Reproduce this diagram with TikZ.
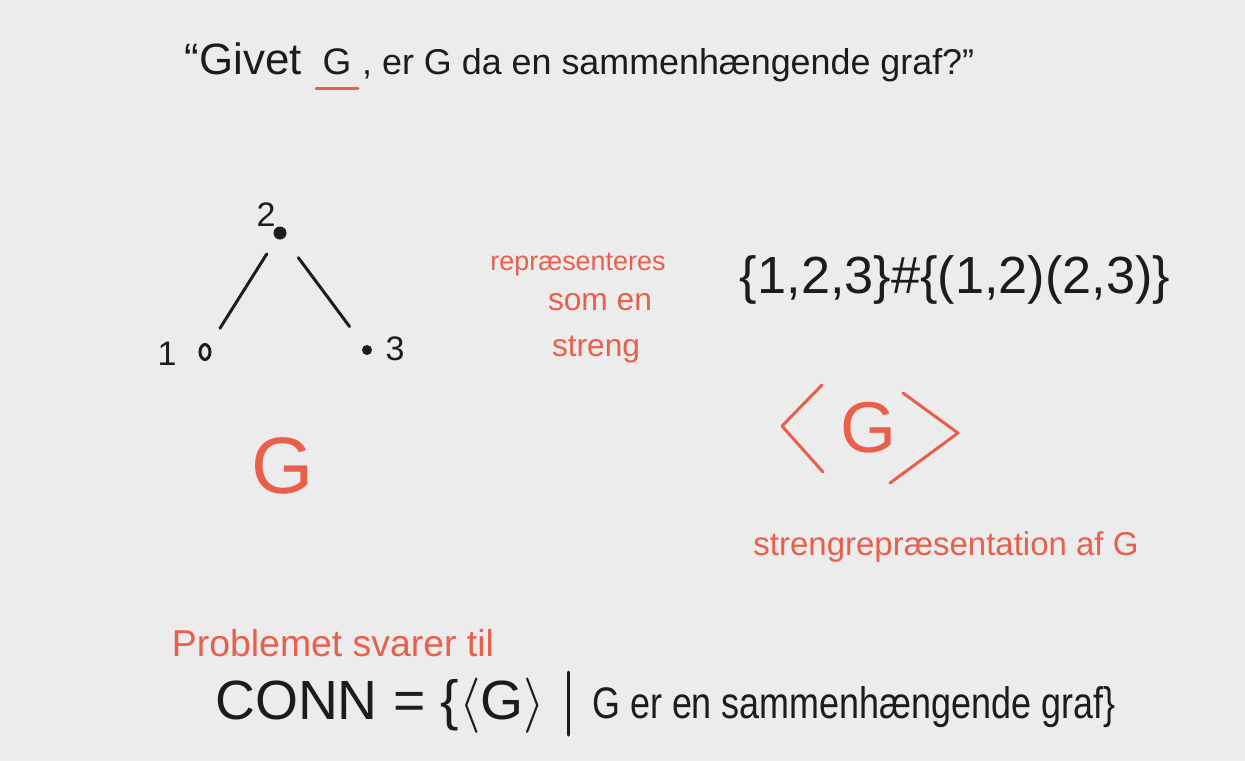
\documentclass[tikz,border=0pt]{standalone}
\usepackage{fontspec}
\setmainfont{Liberation Sans}
\definecolor{bg}{HTML}{ECECEC}
\definecolor{ink}{HTML}{1C1C1C}
\definecolor{redink}{HTML}{E8604C}
\tikzset{
  blk/.style={text=ink, inner sep=0pt},
  redtxt/.style={text=redink, inner sep=0pt},
  edge/.style={draw=ink, line width=3pt, line cap=round},
  redline/.style={draw=redink, line width=3pt, line cap=round, line join=round},
  dotf/.style={circle, fill=ink, inner sep=0pt, minimum size=13pt},
  doto/.style={ellipse, draw=ink, line width=3pt, inner sep=0pt, minimum width=10pt, minimum height=15pt},
  qfont/.style={font=\fontsize{37}{40}\selectfont},
  numfont/.style={font=\fontsize{34}{36}\selectfont},
}
\usetikzlibrary{shapes.geometric}
\begin{document}
\begin{tikzpicture}[x=1pt,y=-1pt]
\fill[bg] (0,0) rectangle (1245,761);
\useasboundingbox (0,0) rectangle (1245,761);

% question
\node[blk, anchor=base east] (q1) at (302,74) {\resizebox{117pt}{!}{\fontsize{37}{40}\selectfont “Givet}};
\node[blk, qfont, anchor=base] (qG) at (337,74) {G};
\node[blk, anchor=base west] (q2) at (362,74) {\resizebox{612pt}{!}{\fontsize{37}{40}\selectfont , er G da en sammenhængende graf?”}};
\coordinate (ulA) at (316,88);
\coordinate (ulB) at (358,88);
\draw[redline] (ulA) -- (ulB);

% graph
\node[dotf] (n2) at (280,233) {};
\node[doto] (n1) at (205,352) {};
\node[dotf, minimum size=10pt] (n3) at (367,350) {};
\node[blk, numfont] (l2) at (266,215) {2};
\node[blk, numfont] (l1) at (167,354) {1};
\node[blk, numfont] (l3) at (395,349) {3};
\draw[edge, shorten <=18pt, shorten >=20pt] (n2) -- (n1);
\draw[edge, shorten <=24pt, shorten >=24pt] (n2) -- (n3);

\node[redtxt, font=\fontsize{80}{80}\selectfont] (bigG) at (283,466) {G};

% represented as a string
\node[redtxt] (r1) at (578,265) {\resizebox{175pt}{!}{repræsenteres}};
\node[redtxt] (r2) at (600,302) {\resizebox{104pt}{!}{som en}};
\node[redtxt] (r3) at (596,350) {\resizebox{88pt}{!}{streng}};

\node[blk] (set) at (955,280) {\resizebox{430pt}{!}{\{1,2,3\}\#\{(1,2)(2,3)\}}};

% <G>
\coordinate (lA) at (822,385);
\coordinate (lB) at (782,426);
\coordinate (lC) at (823,472);
\coordinate (rA) at (903,393);
\coordinate (rB) at (958,433);
\coordinate (rC) at (890,483);
\draw[redline] (lA) -- (lB) -- (lC);
\draw[redline] (rA) -- (rB) -- (rC);
\node[redtxt, font=\fontsize{72}{72}\selectfont] (sG) at (868,428) {G};

\node[redtxt] (srep) at (946,547) {\resizebox{385pt}{!}{strengrepræsentation af G}};

% problem
\node[redtxt] (prob) at (333,643) {\resizebox{322pt}{!}{Problemet svarer til}};
\node[blk, anchor=west] (conn) at (215,706) {\resizebox{330pt}{!}{CONN = \{$\langle$G$\rangle$}};
\coordinate (barA) at (568,672);
\coordinate (barB) at (568,735);
\draw[edge] (barA) -- (barB);
\node[blk, anchor=base west] (rest) at (592,718) {\resizebox{523pt}{32pt}{G er en sammenhængende graf\}}};
\end{tikzpicture}
\end{document}
